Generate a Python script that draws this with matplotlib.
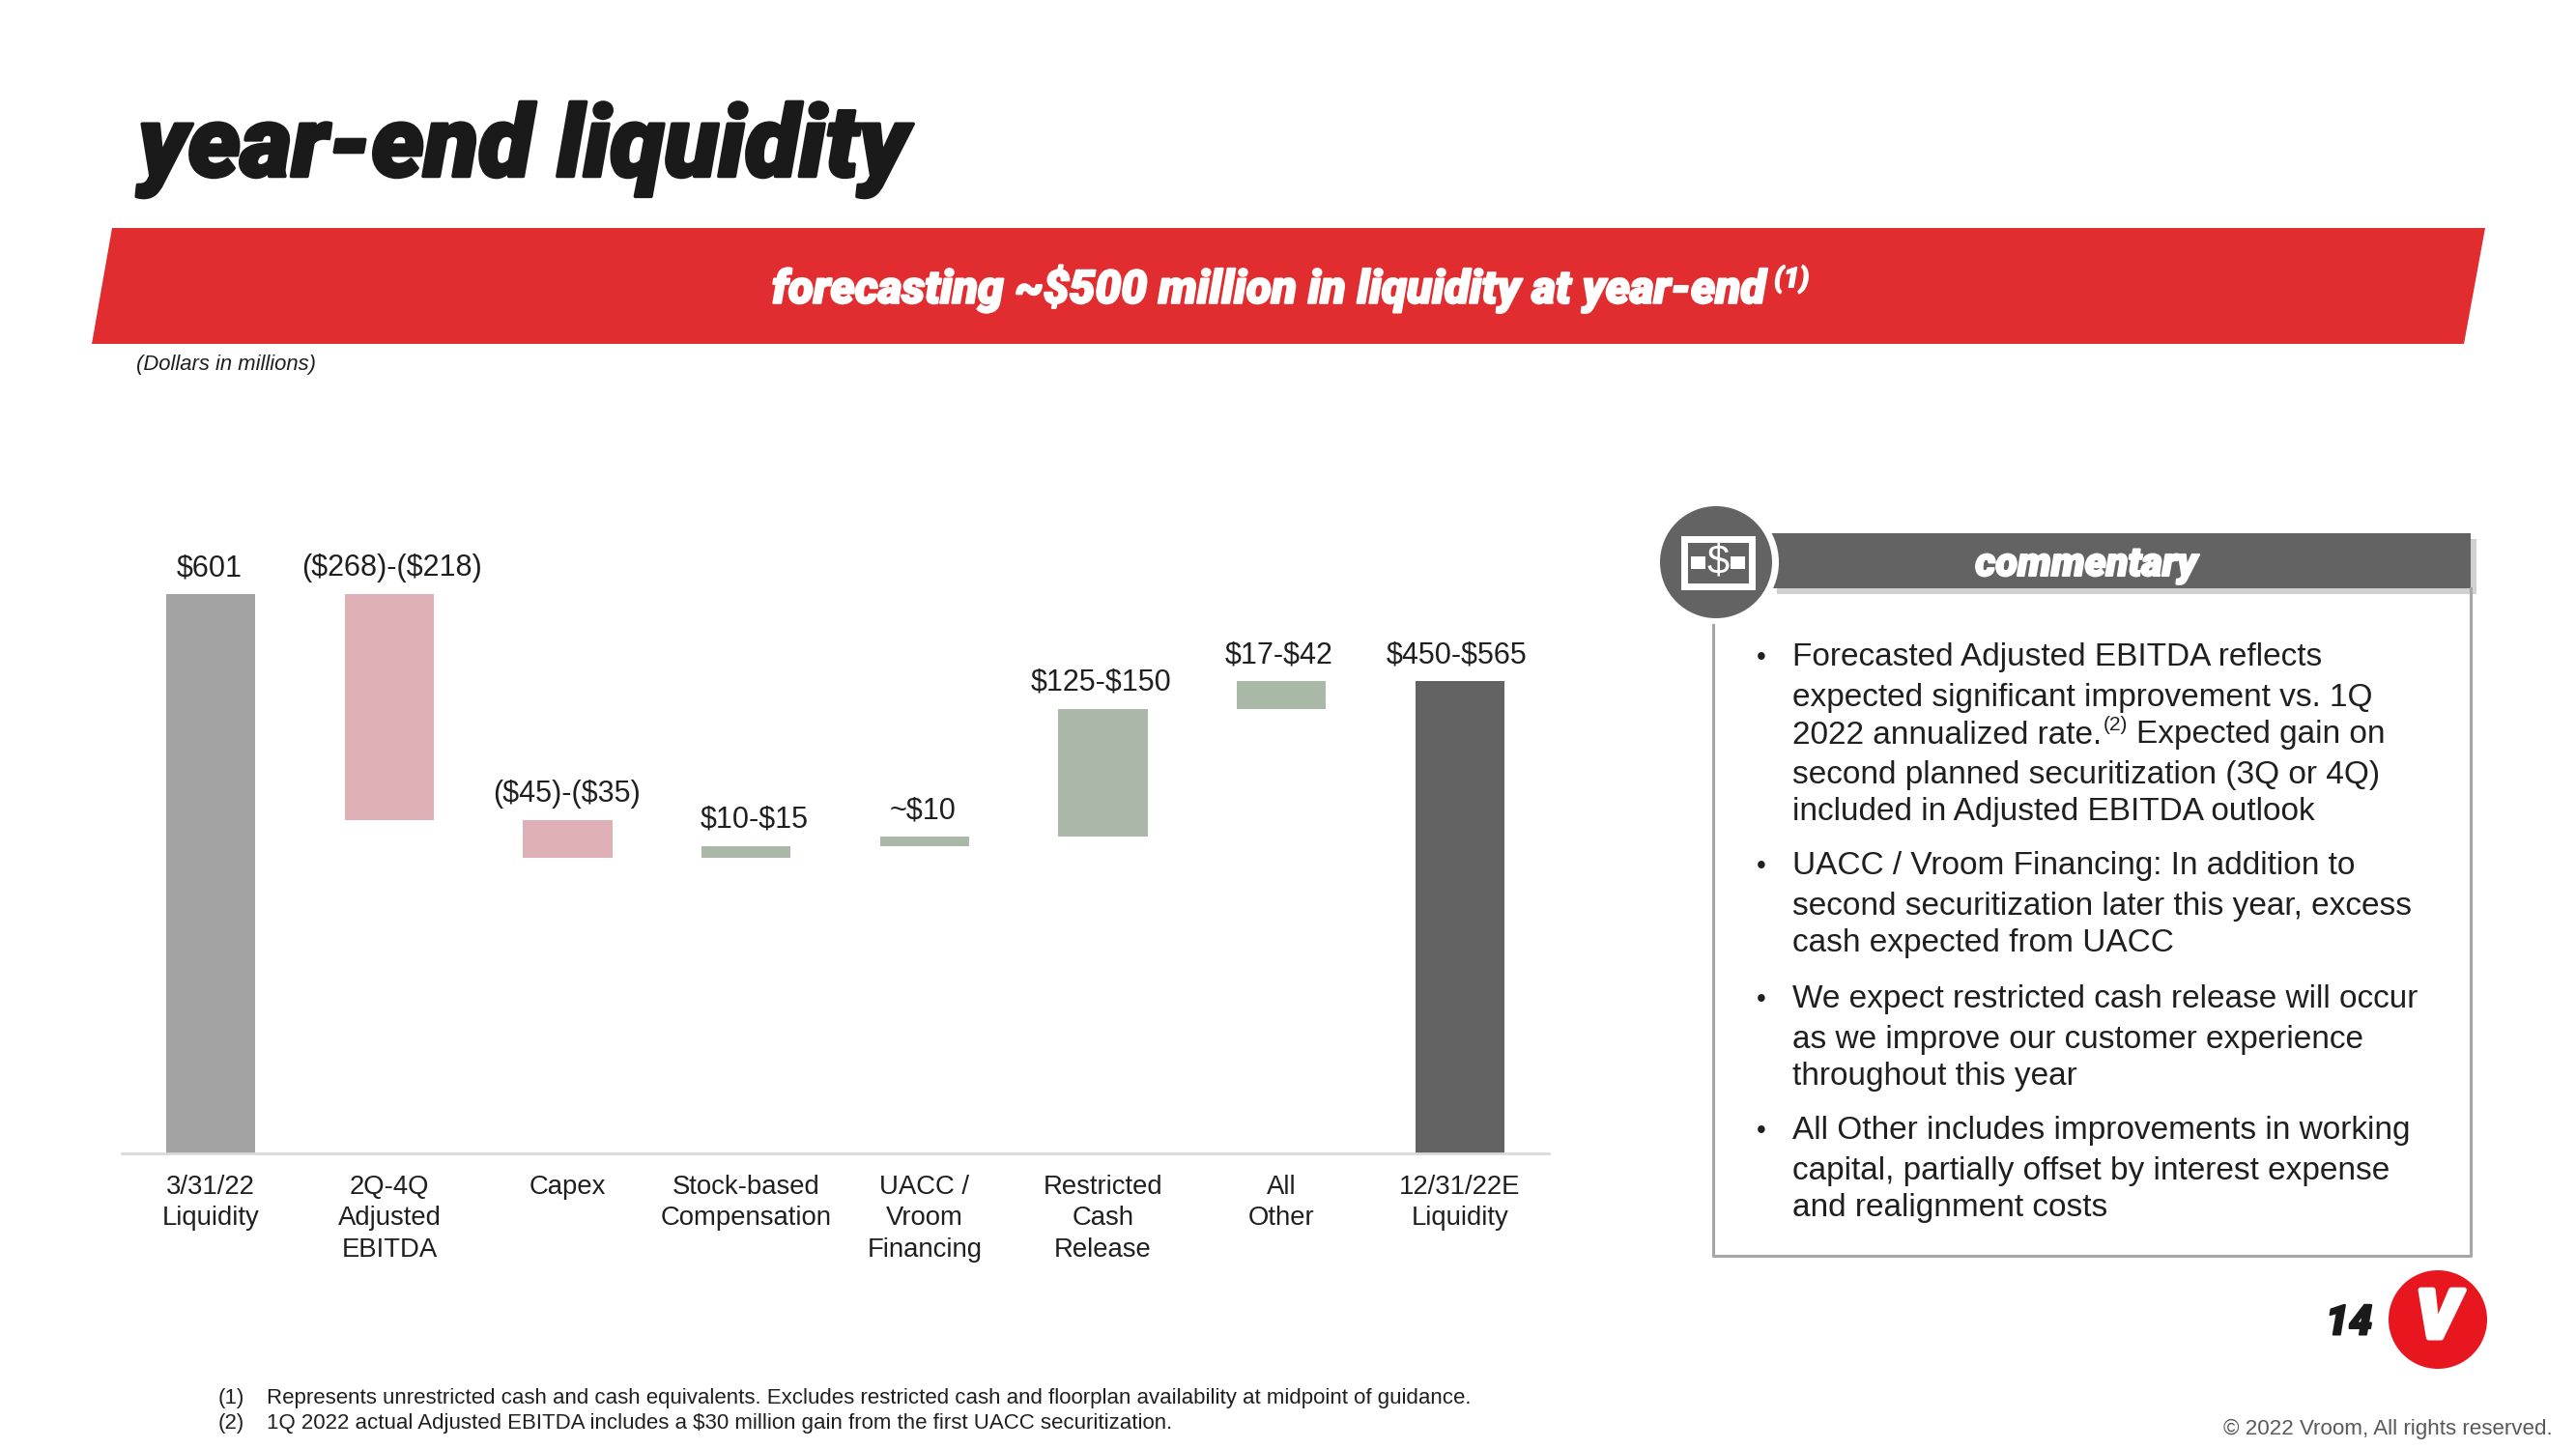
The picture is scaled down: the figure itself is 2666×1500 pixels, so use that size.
import matplotlib
matplotlib.use('Agg')
import matplotlib.pyplot as plt
import matplotlib.patheffects as pe
from matplotlib.patches import Circle, Polygon, Rectangle

categories = ['3/31/22\nLiquidity', '2Q-4Q\nAdjusted\nEBITDA', 'Capex', 'Stock-based\nCompensation',
              'UACC /\nVroom\nFinancing', 'Restricted\nCash\nRelease', 'All\nOther', '12/31/22E\nLiquidity']
value_labels = ['$601', '($268)-($218)', '($45)-($35)', '$10-$15', '~$10', '$125-$150', '$17-$42', '$450-$565']
start_value = 601
# midpoints of the guided ranges
changes = [-243, -40, 12.5, 10, 137.5, 29.5]
end_value = 507.5

commentary = [
    ['Forecasted Adjusted EBITDA reflects', 'expected significant improvement vs. 1Q', None,
     'second planned securitization (3Q or 4Q)', 'included in Adjusted EBITDA outlook'],
    ['UACC / Vroom Financing: In addition to', 'second securitization later this year, excess',
     'cash expected from UACC'],
    ['We expect restricted cash release will occur', 'as we improve our customer experience',
     'throughout this year'],
    ['All Other includes improvements in working', 'capital, partially offset by interest expense',
     'and realignment costs'],
]
footnotes = ['Represents unrestricted cash and cash equivalents. Excludes restricted cash and floorplan availability at midpoint of guidance.',
             '1Q 2022 actual Adjusted EBITDA includes a $30 million gain from the first UACC securitization.']

RED = '#E12D2F'
DARK = '#636363'
TEXT = '#1F1F1F'
plt.rcParams['font.family'] = ['Liberation Sans', 'DejaVu Sans']
plt.rcParams['text.parse_math'] = False


def heavy(width, color):
    return [pe.withStroke(linewidth=width, foreground=color)]


fig = plt.figure(figsize=(26.66, 15), dpi=100)
bg = fig.add_axes([0, 0, 1, 1])
bg.set_xlim(0, 2666)
bg.set_ylim(1500, 0)
bg.axis('off')

# title and banner
bg.text(143, 155, 'year-end liquidity', family='Roboto', weight='black', style='italic', fontsize=74,
        color='#1A1A1A', va='center', path_effects=heavy(2.5, '#1A1A1A'))
bg.add_patch(Polygon([(116, 236), (2572, 236), (2550, 356), (95, 356)], color=RED, lw=0))
bg.text(799, 299, 'forecasting ~$500 million in liquidity at year-end', family='Roboto', weight='black',
        style='italic', fontsize=34.4, color='white', va='center', path_effects=heavy(1.5, 'white'))
bg.text(1836, 289, '(1)', family='Roboto', weight='black', style='italic', fontsize=21, color='white', va='center',
        path_effects=heavy(1, 'white'))
bg.text(141, 378, '(Dollars in millions)', style='italic', fontsize=15.8, color=TEXT, va='center')

# waterfall
ax = fig.add_axes([126 / 2666, 1 - 1194 / 1500, 1477 / 2666, 900 / 1500])
ax.patch.set_alpha(0)
ax.set_xlim(-0.5, 7.5)
ax.set_ylim(0, 935)

level = start_value
ax.bar(0, start_value, width=0.5, color='#A3A3A3')
tops = [start_value]
for i, change in enumerate(changes):
    color = '#DFAFB6' if change < 0 else '#A9B8A7'
    ax.bar(i + 1, abs(change), bottom=min(level, level + change), width=0.5, color=color)
    tops.append(max(level, level + change))
    level += change
ax.bar(7, end_value, width=0.5, color=DARK)
tops.append(end_value)

label_nudge = [-1, 2, -1, 6, -1, -1, -2, -2]
for i, label in enumerate(value_labels):
    ax.annotate(label, (i, tops[i]), xytext=(label_nudge[i], 19.5), textcoords='offset points',
                ha='center', va='center', fontsize=22, color=TEXT)

ax.set_xticks(range(8))
ax.set_xticklabels(categories, fontsize=19.8, color=TEXT, linespacing=1.33, va='top')
ax.tick_params(axis='x', length=0, pad=15.5)
ax.set_yticks([])
for side in ['top', 'left', 'right']:
    ax.spines[side].set_visible(False)
ax.spines['bottom'].set_color('#D9D9D9')
ax.spines['bottom'].set_linewidth(2)

# commentary panel
bg.plot([1773, 1773, 2557, 2557], [640, 1300, 1300, 609], color='#A6A6A6', lw=2.2)
bg.add_patch(Rectangle((1839, 558), 724, 57, color='#D0D0D0', lw=0))
bg.add_patch(Rectangle((1833, 552), 724, 57, color=DARK, lw=0))
bg.add_patch(Circle((1777, 582), 64, color='white', lw=0, zorder=3))
bg.add_patch(Circle((1776, 582), 58, color=DARK, lw=0, zorder=4))
bg.add_patch(Rectangle((1743, 558), 70, 49, fc=DARK, ec='white', lw=5, zorder=5))
bg.add_patch(Rectangle((1750, 576), 56, 13, color='white', lw=0, zorder=5))
bg.text(1778, 583, '$', fontsize=30, color='white', ha='center', va='center', zorder=6,
        bbox=dict(fc=DARK, ec='none', pad=1))
bg.text(2159, 585, 'commentary', family='Roboto', weight='black', style='italic', fontsize=30,
        color='white', ha='center', va='center', path_effects=heavy(1.5, 'white'))

line_y = [681, 722, 761, 802, 841, 897, 938, 977, 1035, 1076, 1115, 1171, 1212, 1251]
n = 0
for para in commentary:
    bg.text(1823, line_y[n], '•', fontsize=20, color=TEXT, ha='center', va='center')
    for line in para:
        if line is not None:
            bg.text(1855, line_y[n], line, fontsize=24, color=TEXT, va='center')
        else:
            bg.text(1855, line_y[n], '2022 annualized rate.', fontsize=24, color=TEXT, va='center')
            bg.text(2177, line_y[n] - 11, '(2)', fontsize=15, color=TEXT, va='center')
            bg.text(2211, line_y[n], 'Expected gain on', fontsize=24, color=TEXT, va='center')
        n += 1

# footnotes, page number, logo
for k, (y, note) in enumerate(zip([1447, 1474], footnotes)):
    bg.text(226, y, '(%d)' % (k + 1), fontsize=16, color=TEXT, va='center')
    bg.text(276, y, note, fontsize=16, color=TEXT, va='center')
bg.text(2431, 1370, '14', family='Roboto', weight='black', style='italic', fontsize=31, color='#1A1A1A',
        ha='center', va='center', path_effects=heavy(1.5, '#1A1A1A'))
bg.add_patch(Circle((2523, 1366), 51, color='#E8171F', lw=0))
bg.text(2523, 1366, 'V', family='Roboto', weight='black', style='italic', fontsize=50, color='white',
        ha='center', va='center', path_effects=heavy(4, 'white'))
bg.text(2642, 1479, '© 2022 Vroom, All rights reserved.', fontsize=16.15, color='#595959', ha='right', va='center')

fig.savefig('out.png', dpi=100)
